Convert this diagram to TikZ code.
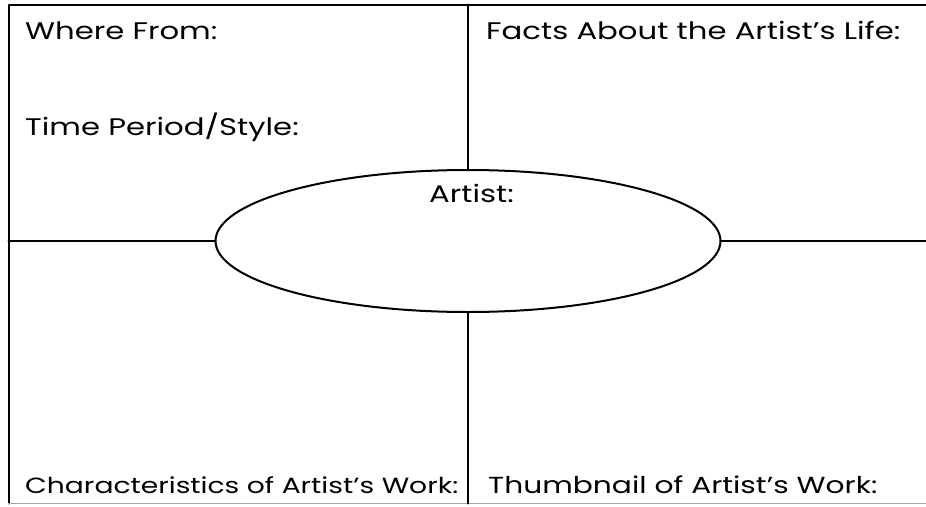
\documentclass[tikz,border=0pt]{standalone}
\usepackage{fontspec}
\setmainfont[FakeStretch=1.28]{Poppins}
\usetikzlibrary{shapes.geometric}

\begin{document}
\begin{tikzpicture}[line cap=round,line join=round,x=1pt,y=-1pt,
		lbl/.style={anchor=base west,inner sep=0pt,font=\fontsize{24}{28}\selectfont}]
		\useasboundingbox (0,0) rectangle (926,506);
		%cadre
		\coordinate (hg) at (8.5,4.5);
		\coordinate (hd) at (926,4.5);
		\coordinate (bg) at (8.5,503.5);
		\coordinate (bd) at (926,503.5);
		\draw[line width=2pt] (bg)--(hg)--(hd);
		\draw[line width=1.2pt,color=black!35] (bg)--(bd);
		%ellipse centrale
		\node[draw,ellipse,line width=2pt,minimum width=505pt,minimum height=142pt,inner sep=0pt] (artist) at (468,241) {};
		%separations
		\coordinate (haut) at (468,4.5);
		\coordinate (bas) at (468,503.5);
		\coordinate (gauche) at (8.5,241);
		\coordinate (droite) at (926,241);
		\draw[line width=2pt] (haut)--(artist.north);
		\draw[line width=2pt] (artist.south)--(bas);
		\draw[line width=2pt] (gauche)--(artist.west);
		\draw[line width=2pt] (artist.east)--(droite);
		%textes
		\node[lbl] (where) at (25,39) {Where From:};
		\node[lbl] (period) at (25,135) {Time Period/Style:};
		\node[lbl] (facts) at (486,39) {Facts About the Artist’s Life:};
		\node[lbl] (name) at (429,202) {Artist:};
		\node[lbl,font=\fontsize{22}{26}\selectfont] (traits) at (25,493) {Characteristics of Artist’s Work:};
		\node[lbl,font=\fontsize{23.2}{27}\selectfont] (thumb) at (488,493) {Thumbnail of Artist’s Work:};
\end{tikzpicture}
\end{document}
